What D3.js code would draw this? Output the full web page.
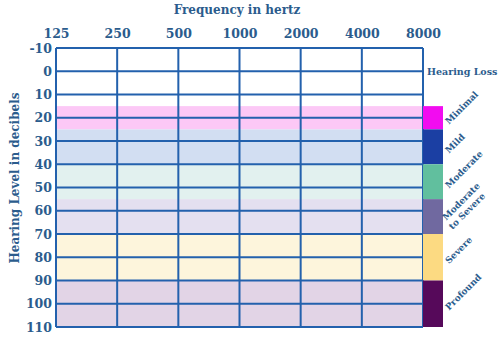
<!DOCTYPE html>
<html><head><meta charset="utf-8">
<script src="https://cdn.jsdelivr.net/npm/d3@7/dist/d3.min.js"></script>
<style>body{margin:0;background:#fff}svg{display:block}</style>
</head><body>
<svg id="c" width="500" height="341"></svg>
<script>
const frequencies = ["125","250","500","1000","2000","4000","8000"];
const dbTicks = [-10,0,10,20,30,40,50,60,70,80,90,100,110];
const categories = ["Minimal","Mild","Moderate","Moderate|to Severe","Severe","Profound"];
const bandLow  = [15,25,40,55,70,90];
const bandHigh = [25,40,55,70,90,110];
const bandFill   = ["#fcc8f6","#d2def2","#e2f1ef","#e4e0f0","#fdf5dc","#e2d4e6"];
const legendFill = ["#f20cf0","#1b3fa3","#61bf9e","#7069a0","#fcda82","#56095a"];

const svg = d3.select("#c");
const textColor = "#2b5c8d", lineColor = "#2361ad";
const font = "'DejaVu Serif', serif";
const x = d3.scalePoint(frequencies, [56, 423]);
const y = d3.scaleLinear([-10, 110], [48, 327]);

// bands
svg.append("g").selectAll("rect").data(categories).join("rect")
  .attr("x", x.range()[0]).attr("width", x.range()[1]-x.range()[0])
  .attr("y", (d,i)=>y(bandLow[i])).attr("height",(d,i)=>y(bandHigh[i])-y(bandLow[i]))
  .attr("fill",(d,i)=>bandFill[i]);

// grid
const g = svg.append("g").attr("stroke", lineColor).attr("stroke-width", 2);
g.selectAll("line.h").data(dbTicks).join("line").attr("class","h")
  .attr("x1", x.range()[0]).attr("x2", x.range()[1])
  .attr("y1", d=>y(d)).attr("y2", d=>y(d));
g.selectAll("line.v").data(frequencies).join("line").attr("class","v")
  .attr("x1", d=>x(d)).attr("x2", d=>x(d))
  .attr("y1", y(-10)).attr("y2", y(110));

// axes labels
const xAxis = d3.axisTop(x).tickSize(0).tickPadding(10);
const xa = svg.append("g").attr("transform",`translate(0,${y(-10)})`).call(xAxis);
xa.select(".domain").remove();
xa.selectAll("text").attr("fill",textColor).attr("font-family",font)
  .attr("font-weight","bold").attr("font-size",12.5);

const yAxis = d3.axisLeft(y).tickValues(dbTicks).tickFormat(d=>String(d)).tickSize(0).tickPadding(4);
const ya = svg.append("g").attr("transform",`translate(${x.range()[0]},0)`).call(yAxis);
ya.select(".domain").remove();
ya.selectAll("text").attr("fill",textColor).attr("font-family",font)
  .attr("font-weight","bold").attr("font-size",12.5);

// titles
svg.append("text").attr("x",237).attr("y",14).attr("text-anchor","middle")
  .attr("fill",textColor).attr("font-family",font).attr("font-weight","bold")
  .attr("font-size",12).text("Frequency in hertz");
svg.append("text").attr("transform","translate(19,178) rotate(-90)").attr("text-anchor","middle")
  .attr("fill",textColor).attr("font-family",font).attr("font-weight","bold")
  .attr("font-size",12).text("Hearing Level in decibels");
svg.append("text").attr("x",427).attr("y",y(0)+3.5)
  .attr("fill",textColor).attr("font-family",font).attr("font-weight","bold")
  .attr("font-size",9.5).text("Hearing Loss");

// legend boxes
svg.append("g").selectAll("rect").data(categories).join("rect")
  .attr("x", x.range()[1]).attr("width", 20)
  .attr("y",(d,i)=>y(bandLow[i])).attr("height",(d,i)=>y(bandHigh[i])-y(bandLow[i]))
  .attr("fill",(d,i)=>legendFill[i]);

// legend labels rotated
const lab = svg.append("g").selectAll("text").data(categories).join("text")
  .attr("transform",(d,i)=>{const cy=(y(bandLow[i])+y(bandHigh[i]))/2;
     return `translate(449,${cy+7}) rotate(-45)`;})
  .attr("fill",textColor).attr("font-family",font).attr("font-weight","bold")
  .attr("font-size",9);
lab.each(function(d){
  const parts=d.split("|");
  d3.select(this).selectAll("tspan").data(parts).join("tspan")
    .attr("x",(p,j)=>j*-2).attr("dy",(p,j)=>j?11:(parts.length>1?-4:0)).text(p=>p);
});
</script>
</body></html>
